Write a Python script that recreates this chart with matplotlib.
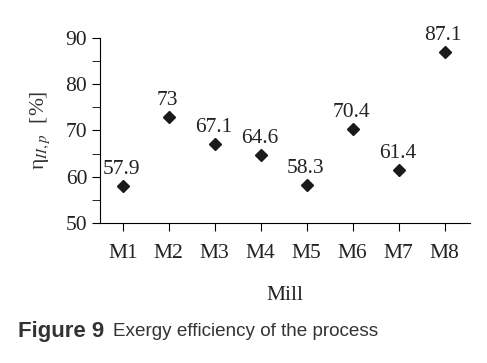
import matplotlib
matplotlib.use('Agg')
import matplotlib.pyplot as plt
from matplotlib.ticker import MultipleLocator

# Data
mills = ['M1', 'M2', 'M3', 'M4', 'M5', 'M6', 'M7', 'M8']
efficiency = [57.9, 73, 67.1, 64.6, 58.3, 70.4, 61.4, 87.1]
labels = ['57.9', '73', '67.1', '64.6', '58.3', '70.4', '61.4', '87.1']

plt.rcParams['font.family'] = 'Liberation Serif'
plt.rcParams['mathtext.fontset'] = 'stix'

fig = plt.figure(figsize=(4.87, 3.63), dpi=100)
ax = fig.add_axes([0.205, 0.386, 0.76, 0.509])

x = list(range(len(mills)))
ax.plot(x, efficiency, 'D', color='#1a1a1a', markersize=6)

# value labels above each point
for xi, yi, lab in zip(x, efficiency, labels):
    ax.annotate(lab, (xi, yi), xytext=(-1, 5), textcoords='offset points',
                ha='center', va='bottom', fontsize=15.5, color='#222222')

ax.set_xlim(-0.5, 7.55)
ax.set_ylim(50, 90)
ax.set_xticks(x)
ax.set_xticklabels(mills)
ax.yaxis.set_major_locator(MultipleLocator(10))
ax.yaxis.set_minor_locator(MultipleLocator(5))

for side in ['top', 'right']:
    ax.spines[side].set_visible(False)
ax.tick_params(axis='both', which='major', labelsize=15.5, labelcolor='#222222',
               length=6, direction='out')
ax.tick_params(axis='y', which='minor', length=6, direction='out')
ax.tick_params(axis='y', pad=3)
ax.tick_params(axis='x', pad=9)

ax.set_xlabel('Mill', fontsize=15.5, color='#222222', labelpad=17)
ax.set_ylabel('η$_{II,p}$  [%]', fontsize=15.5, color='#333333', labelpad=10)

fig.text(0.037, 0.087, 'Figure 9', fontsize=16, fontweight='bold',
         family='Liberation Sans', color='#333333', va='center')
fig.text(0.232, 0.087, 'Exergy efficiency of the process', fontsize=13.6,
         family='Liberation Sans', color='#333333', va='center')

plt.savefig('out.png', dpi=100)
